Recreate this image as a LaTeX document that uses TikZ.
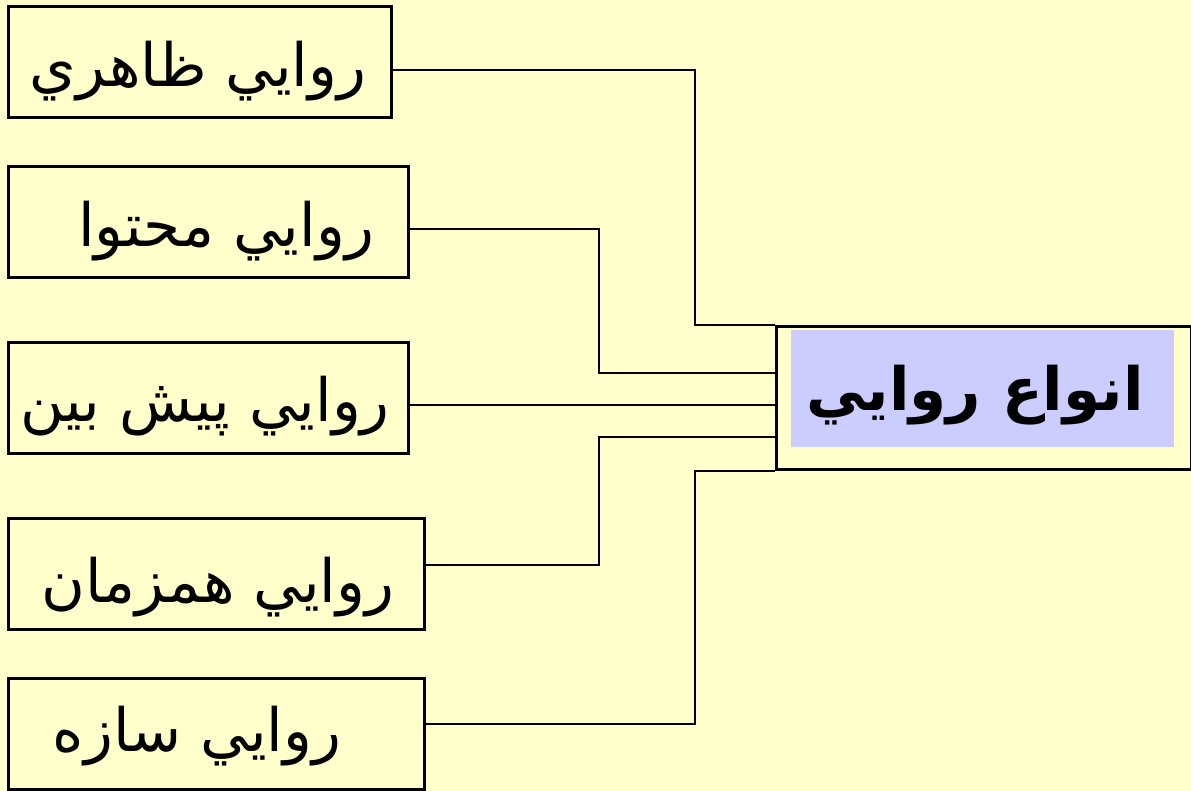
\documentclass[tikz,border=0pt]{standalone}
\usepackage{fontspec}
\newfontfamily\arabicfont[Script=Arabic]{DejaVu Sans}
\TeXXeTstate=1
\definecolor{paper}{HTML}{FFFFCC}
\definecolor{lavender}{HTML}{CCCCFF}

\begin{document}
\begin{tikzpicture}[
      x=0.02cm, y=-0.02cm,
      leaf/.style = {
        draw,
        line width=1.5pt,
        anchor=north west,
        inner sep=0pt,
        minimum height=2.22cm
      },
      leaftext/.style = {
        anchor=base,
        inner sep=0pt,
        font=\arabicfont\fontsize{34}{38}\selectfont
      },
      wire/.style = {
        line width=1.2pt
      }
    ]
    \fill[paper] (0,0) rectangle (1191,791);
    \useasboundingbox (0,0) rectangle (1191,791);

    % left boxes
    \node[leaf, minimum width=7.66cm] (zahiri) at (7,5) {};
    \node[leaf, minimum width=8.0cm] (mohtava) at (7,165) {};
    \node[leaf, minimum width=8.0cm] (pishbin) at (7,341) {};
    \node[leaf, minimum width=8.32cm] (hamzaman) at (7,517) {};
    \node[leaf, minimum width=8.32cm] (saze) at (7,677) {};

    \node[leaftext] (zahiri-t) at (198,86) {\beginR روايي ظاهري\endR};
    \node[leaftext] (mohtava-t) at (226,246) {\beginR روايي محتوا\endR};
    \node[leaftext] (pishbin-t) at (205,421) {\beginR روايي پيش بين\endR};
    \node[leaftext] (hamzaman-t) at (218,602) {\beginR روايي همزمان\endR};
    \node[leaftext] (saze-t) at (197,751) {\beginR روايي سازه\endR};

    % right box
    \node[leaf, minimum width=8.3cm, minimum height=2.86cm] (types) at (775,325) {};
    \fill[lavender] (791,330) rectangle (1174,447);
    \node[leaftext, font=\arabicfont\bfseries\fontsize{34}{38}\selectfont]
      (types-t) at (975,410) {\beginR انواع روايي\endR};

    % junctions
    \coordinate (j1) at (695,70);
    \coordinate (j2) at (599,229);
    \coordinate (k2) at (599,373);
    \coordinate (k3) at (599,405);
    \coordinate (j4) at (599,565);
    \coordinate (k4) at (599,437);
    \coordinate (j5) at (695,724);

    \draw[wire] (zahiri.east |- j1) -- (j1) |- (types.north west);
    \draw[wire] (mohtava.east |- j2) -- (j2) |- (types.west |- k2);
    \draw[wire] (pishbin.east |- k3) -- (types.west |- k3);
    \draw[wire] (hamzaman.east |- j4) -- (j4) |- (types.west |- k4);
    \draw[wire] (saze.east |- j5) -- (j5) |- (types.south west);
  \end{tikzpicture}
\end{document}
